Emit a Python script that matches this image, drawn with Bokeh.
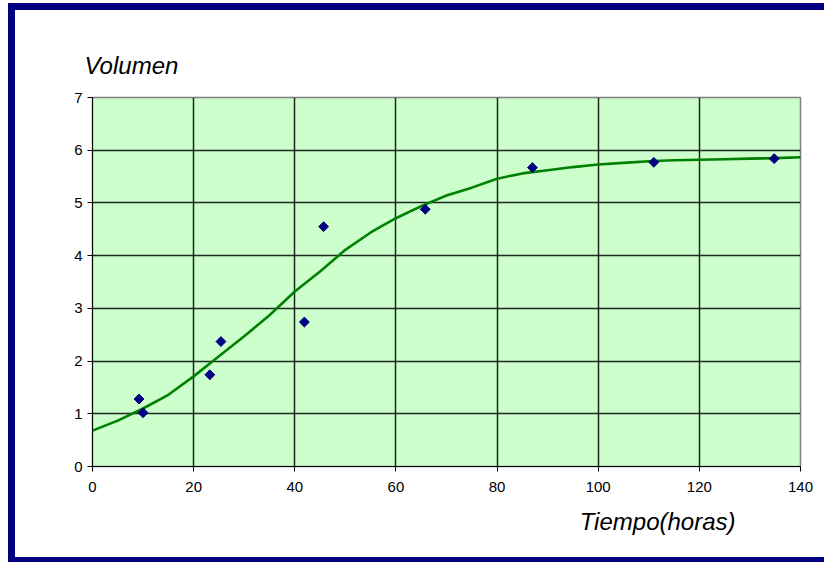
from bokeh.plotting import figure
from bokeh.models import Title, Range1d, FixedTicker
from bokeh.embed import file_html
from bokeh.resources import INLINE
import numpy as np

# measured points
tiempo = [9.2, 10.0, 23.2, 25.4, 41.9, 45.7, 65.8, 87.0, 111.0, 134.8]
volumen = [1.28, 1.02, 1.74, 2.37, 2.74, 4.55, 4.88, 5.67, 5.77, 5.84]

# fitted curve
curva_x = [0, 5, 10, 15, 20, 25, 30, 35, 40, 45, 50, 55, 60, 65, 70, 75, 80, 85,
           90, 95, 100, 105, 110, 115, 120, 125, 130, 135, 141]
curva_y = [0.68, 0.87, 1.10, 1.36, 1.71, 2.09, 2.47, 2.87, 3.32, 3.70, 4.11, 4.44,
           4.71, 4.94, 5.14, 5.29, 5.46, 5.56, 5.62, 5.68, 5.73, 5.76, 5.79, 5.81,
           5.82, 5.83, 5.84, 5.85, 5.87]

x_ticks = [0, 20, 40, 60, 80, 100, 120, 140]
y_ticks = [0, 1, 2, 3, 4, 5, 6, 7]

FONT = "Liberation Sans"
NAVY = "#000080"

p = figure(width=816, height=559, output_backend="svg", toolbar_location=None,
           x_range=Range1d(0, 140), y_range=Range1d(0, 7),
           min_border_left=77, min_border_right=31, min_border_top=87, min_border_bottom=103,
           background_fill_color="#ccffcc", border_fill_color="white",
           styles={"box-sizing": "border-box",
                   "margin-left": "8px", "margin-top": "3px",
                   "border-left": "7px solid " + NAVY,
                   "border-top": "7px solid " + NAVY,
                   "border-bottom": "5px solid " + NAVY})

p.outline_line_color = "#808080"
p.outline_line_width = 1.5

for ax, ticks in ((p.xaxis[0], x_ticks), (p.yaxis[0], y_ticks)):
    ax.ticker = FixedTicker(ticks=ticks)
    ax.axis_line_color = "black"
    ax.axis_line_width = 1
    ax.major_tick_line_color = "black"
    ax.major_tick_out = 5
    ax.major_tick_in = 0
    ax.minor_tick_line_color = None
    ax.major_label_text_font = FONT
    ax.major_label_text_font_size = "15px"
    ax.major_label_text_color = "black"

p.xaxis.major_label_standoff = 10
p.yaxis.major_label_standoff = 5

p.xgrid.ticker = FixedTicker(ticks=x_ticks)
p.ygrid.ticker = FixedTicker(ticks=y_ticks)
for g in (p.xgrid[0], p.ygrid[0]):
    g.grid_line_color = "black"
    g.grid_line_width = 1.5
    g.grid_line_alpha = 0.85

p.title = Title(text="Volumen", align="left", offset=-8, text_font=FONT,
                text_font_style="italic", text_font_size="24px", text_color="black",
                standoff=37)
p.add_layout(Title(text="Tiempo(horas)", align="right", offset=65, text_font=FONT,
                   text_font_style="italic", text_font_size="24px", text_color="black",
                   standoff=22), "below")

p.line(curva_x, curva_y, line_color="#008000", line_width=2.6)
p.scatter(tiempo, volumen, marker="square", angle=np.pi / 4, size=7,
          fill_color=NAVY, line_color=NAVY)

open("out.html", "w").write(file_html(p, INLINE))
